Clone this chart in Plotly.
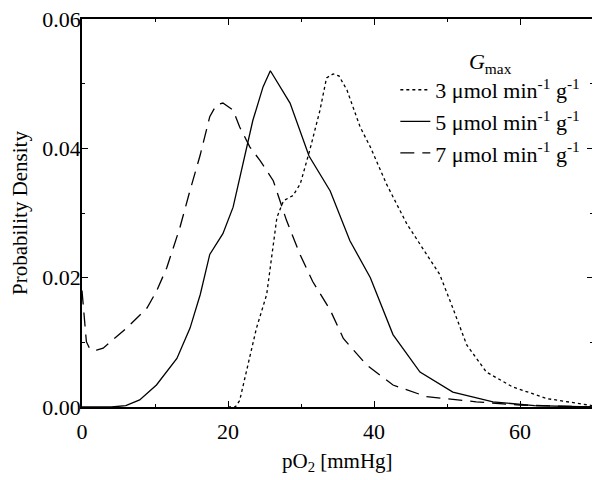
import plotly.graph_objects as go

# Gmax = 3 umol/min/g (dotted)
x3 = [20, 21, 21.6, 23.9, 25.3, 26, 26.7, 27.6, 28.9, 29.9, 31.2, 32.6, 33.5, 34.4, 35.2, 36.3,
      38.1, 39.5, 41.7, 44.5, 47.2, 49, 50.8, 52.7, 55.4, 59, 63.7, 70]
y3 = [0, 0, 0.001, 0.0122, 0.0174, 0.0236, 0.0293, 0.0319, 0.0327, 0.0345, 0.0397, 0.0459, 0.0509,
      0.0515, 0.0512, 0.049, 0.0433, 0.0402, 0.0345, 0.0283, 0.0236, 0.0205, 0.0153, 0.0096, 0.0054,
      0.0031, 0.0013, 0.0002]

# Gmax = 5 umol/min/g (solid)
x5 = [0, 4, 6, 7.9, 10.2, 13, 14.8, 16.2, 17.5, 19.3, 20.7, 22.1, 23.4, 24.8, 25.8, 28.5, 31.1,
      34, 36.7, 39.5, 42.6, 46.3, 50.8, 56.3, 62, 70]
y5 = [0, 0, 0.0002, 0.0011, 0.0034, 0.0075, 0.0122, 0.0174, 0.0236, 0.0268, 0.0309, 0.0381, 0.0443,
      0.0495, 0.052, 0.047, 0.0388, 0.0334, 0.0257, 0.020, 0.0112, 0.0054, 0.0023, 0.0008, 0.0002, 0.0]

# Gmax = 7 umol/min/g (dashed)
x7 = [0, 0.3, 0.6, 1.1, 2, 2.9, 6.1, 8.9, 10.2, 11.6, 13.4, 14.8, 16.2, 17.5, 18.4, 19.3, 20.7,
      21.6, 23, 24.4, 26.2, 28, 29.9, 31.6, 34, 35.8, 39, 42.6, 47.2, 54, 60, 70]
y7 = [0.018, 0.014, 0.0101, 0.0089, 0.0088, 0.0091, 0.0122, 0.0153, 0.0179, 0.0215, 0.0277, 0.0335,
      0.039, 0.0449, 0.0467, 0.047, 0.0459, 0.0433, 0.0402, 0.0381, 0.035, 0.0289, 0.0235, 0.0194,
      0.0150, 0.0106, 0.0065, 0.0034, 0.0016, 0.0008, 0.0003, 0.0]

names = ["3 \u03bcmol min<sup>-1</sup> g<sup>-1</sup>",
         "5 \u03bcmol min<sup>-1</sup> g<sup>-1</sup>",
         "7 \u03bcmol min<sup>-1</sup> g<sup>-1</sup>"]

x_tickvals = [0, 20, 40, 60]
x_ticktext = ["0", "20", "40", "60"]
y_tickvals = [0, 0.02, 0.04, 0.06]
y_ticktext = ["0.00", "0.02", "0.04", "0.06"]

FONT = "Liberation Serif"

fig = go.Figure()
fig.add_trace(go.Scatter(x=x3, y=y3, mode="lines", name=names[0],
                         line=dict(color="black", width=1.3, dash="3px,3px")))
fig.add_trace(go.Scatter(x=x5, y=y5, mode="lines", name=names[1],
                         line=dict(color="black", width=1.3)))
fig.add_trace(go.Scatter(x=x7, y=y7, mode="lines", name=names[2],
                         line=dict(color="black", width=1.3, dash="14px,8px")))

axis_common = dict(showline=True, linecolor="black", linewidth=1.5, mirror="ticks",
                   ticks="inside", ticklen=6, tickcolor="black", showgrid=False,
                   zeroline=False, automargin=False, ticklabeloverflow="allow",
                   tickfont=dict(family=FONT, size=22, color="black"))

fig.update_xaxes(range=[0, 70], tickvals=x_tickvals, ticktext=x_ticktext,
                 minor=dict(tickvals=[10, 30, 50], ticks="inside", ticklen=3, tickcolor="black"),
                 ticklabelstandoff=4,
                 **axis_common)
fig.update_yaxes(range=[0, 0.06], tickvals=y_tickvals, ticktext=y_ticktext,
                 minor=dict(tickvals=[0.01, 0.03, 0.05], ticks="inside", ticklen=3, tickcolor="black"),
                 ticklabelstandoff=-5,
                 title=dict(text="Probability Density", font=dict(family=FONT, size=21, color="black"),
                            standoff=14),
                 **axis_common)

# x-axis title placed as an annotation
fig.add_annotation(text="pO<sub>2</sub> [mmHg]", xref="paper", yref="paper", x=0.5, y=-0.142,
                   xanchor="center", yanchor="middle", showarrow=False,
                   font=dict(family=FONT, size=21, color="black"))

# page body has an 8px margin; compensate so the plot area lands at x 82-593, y 19-407
fig.update_layout(
    width=600, height=480,
    margin=dict(l=74, r=15, t=11, b=81),
    plot_bgcolor="white", paper_bgcolor="white",
    font=dict(family=FONT, size=22, color="black"),
    legend=dict(x=0.985, y=0.945, xanchor="right", yanchor="top",
                bgcolor="rgba(0,0,0,0)", borderwidth=0,
                title=dict(text="<i>G</i><sub>max</sub>", side="top center",
                           font=dict(family=FONT, size=22)),
                font=dict(family=FONT, size=22), tracegroupgap=0, itemwidth=30),
)

fig.write_html("out.html")
